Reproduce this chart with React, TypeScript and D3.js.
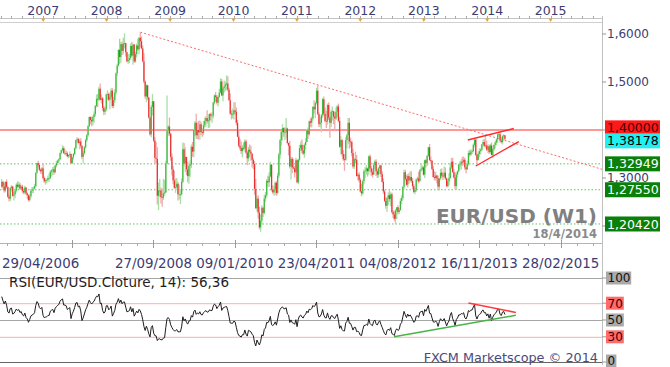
import React, { useEffect, useRef } from 'react';
import * as d3 from 'd3';

// weekly EUR/USD candles, first one opens the week of 7 May 2006
const firstWeek = '2006-05-07';

// closes before the visible range, only used to warm up the RSI
const warmupCloses = [
  1.172, 1.169, 1.179, 1.174, 1.181, 1.200, 1.185, 1.184, 1.208, 1.213, 1.215, 1.225, 1.203,
  1.196, 1.191, 1.192, 1.201, 1.193, 1.215, 1.205, 1.212, 1.216, 1.214, 1.234, 1.262, 1.282,
];

const closes = [
  // 2006
  1.292, 1.282, 1.274, 1.292, 1.281, 1.261, 1.257, 1.279, 1.282, 1.263, 1.266, 1.274, 1.286, 1.282, 1.286, 1.278, 1.282, 1.273,
  1.270, 1.280, 1.268, 1.264, 1.254, 1.262, 1.273, 1.276, 1.278, 1.283, 1.311, 1.331, 1.327, 1.317, 1.314, 1.320, 1.300,
  // 2007
  1.293, 1.295, 1.296, 1.300, 1.300, 1.313, 1.316, 1.318, 1.312, 1.326, 1.331, 1.336, 1.339, 1.352, 1.358, 1.362, 1.352, 1.352,
  1.351, 1.345, 1.348, 1.350, 1.331, 1.343, 1.350, 1.362, 1.379, 1.381, 1.373, 1.376, 1.367, 1.344, 1.352, 1.364, 1.379, 1.389,
  1.408, 1.427, 1.421, 1.418, 1.427, 1.433, 1.450, 1.465, 1.464, 1.486, 1.463, 1.466, 1.446, 1.438, 1.443, 1.474,
  // 2008
  1.475, 1.463, 1.469, 1.482, 1.450, 1.462, 1.478, 1.518, 1.534, 1.567, 1.552, 1.579, 1.565, 1.580, 1.581, 1.562, 1.543, 1.546,
  1.550, 1.575, 1.555, 1.578, 1.543, 1.558, 1.576, 1.568, 1.592, 1.585, 1.570, 1.543, 1.501, 1.470, 1.493, 1.468, 1.426, 1.391,
  1.448, 1.460, 1.378, 1.342, 1.340, 1.263, 1.274, 1.274, 1.260, 1.259, 1.268, 1.270, 1.330, 1.399, 1.407, 1.392,
  // 2009
  1.344, 1.318, 1.295, 1.280, 1.281, 1.288, 1.266, 1.266, 1.266, 1.292, 1.360, 1.330, 1.344, 1.318, 1.304, 1.325, 1.328, 1.365,
  1.355, 1.400, 1.415, 1.389, 1.400, 1.395, 1.412, 1.396, 1.394, 1.410, 1.419, 1.425, 1.418, 1.420, 1.433, 1.430, 1.430, 1.457,
  1.472, 1.469, 1.457, 1.469, 1.478, 1.501, 1.472, 1.487, 1.491, 1.495, 1.497, 1.484, 1.462, 1.434, 1.433, 1.433,
  // 2010
  1.441, 1.438, 1.415, 1.386, 1.367, 1.363, 1.356, 1.363, 1.362, 1.376, 1.353, 1.341, 1.359, 1.355, 1.351, 1.338, 1.329, 1.277,
  1.237, 1.257, 1.228, 1.197, 1.211, 1.238, 1.227, 1.257, 1.264, 1.294, 1.291, 1.303, 1.328, 1.276, 1.270, 1.276, 1.290, 1.269,
  1.305, 1.349, 1.379, 1.396, 1.404, 1.395, 1.395, 1.403, 1.373, 1.367, 1.324, 1.340, 1.322, 1.320, 1.312, 1.337,
  // 2011
  1.291, 1.338, 1.362, 1.369, 1.357, 1.351, 1.369, 1.375, 1.399, 1.391, 1.418, 1.415, 1.424, 1.448, 1.443, 1.456, 1.482, 1.433,
  1.412, 1.415, 1.431, 1.464, 1.434, 1.419, 1.418, 1.452, 1.426, 1.415, 1.438, 1.439, 1.428, 1.424, 1.438, 1.449, 1.419, 1.365,
  1.379, 1.350, 1.339, 1.338, 1.379, 1.389, 1.415, 1.376, 1.375, 1.352, 1.324, 1.339, 1.338, 1.304, 1.307, 1.296,
  // 2012
  1.272, 1.268, 1.293, 1.314, 1.315, 1.320, 1.314, 1.345, 1.320, 1.312, 1.307, 1.327, 1.334, 1.314, 1.307, 1.320, 1.326, 1.308,
  1.292, 1.272, 1.252, 1.242, 1.258, 1.264, 1.256, 1.266, 1.229, 1.224, 1.215, 1.232, 1.239, 1.229, 1.233, 1.252, 1.258, 1.282,
  1.312, 1.298, 1.286, 1.304, 1.295, 1.302, 1.294, 1.283, 1.271, 1.275, 1.297, 1.299, 1.293, 1.316, 1.319, 1.322, 1.307,
  // 2013
  1.337, 1.331, 1.346, 1.364, 1.337, 1.336, 1.319, 1.302, 1.300, 1.305, 1.299, 1.282, 1.299, 1.311, 1.305, 1.303, 1.311, 1.299,
  1.283, 1.293, 1.300, 1.322, 1.334, 1.312, 1.301, 1.283, 1.307, 1.314, 1.328, 1.328, 1.334, 1.333, 1.338, 1.322, 1.318, 1.329,
  1.352, 1.349, 1.355, 1.356, 1.369, 1.380, 1.348, 1.337, 1.350, 1.356, 1.359, 1.370, 1.375, 1.367, 1.368, 1.359,
  // 2014
  1.366, 1.354, 1.368, 1.348, 1.360, 1.369, 1.374, 1.380, 1.391, 1.391, 1.378, 1.375, 1.387, 1.389, 1.38178,
];

const highs = [
  1.298, 1.294, 1.290, 1.293, 1.297, 1.283, 1.266, 1.281, 1.285, 1.284, 1.271, 1.278, 1.289, 1.293, 1.292, 1.290, 1.285, 1.286,
  1.278, 1.284, 1.281, 1.270, 1.266, 1.266, 1.277, 1.281, 1.282, 1.288, 1.312, 1.332, 1.336, 1.330, 1.320, 1.323, 1.330,
  1.303, 1.299, 1.299, 1.305, 1.310, 1.316, 1.318, 1.323, 1.324, 1.328, 1.336, 1.338, 1.341, 1.353, 1.359, 1.368, 1.366, 1.361,
  1.357, 1.355, 1.349, 1.355, 1.351, 1.344, 1.352, 1.364, 1.380, 1.385, 1.384, 1.382, 1.383, 1.369, 1.356, 1.367, 1.382, 1.392,
  1.410, 1.428, 1.428, 1.428, 1.430, 1.439, 1.452, 1.474, 1.475, 1.490, 1.497, 1.474, 1.469, 1.450, 1.448, 1.476,
  1.483, 1.478, 1.477, 1.487, 1.487, 1.469, 1.485, 1.520, 1.538, 1.568, 1.590, 1.584, 1.584, 1.592, 1.601, 1.582, 1.563, 1.559,
  1.558, 1.580, 1.584, 1.580, 1.579, 1.563, 1.580, 1.590, 1.594, 1.604, 1.595, 1.576, 1.560, 1.503, 1.495, 1.494, 1.467, 1.427,
  1.452, 1.475, 1.459, 1.385, 1.375, 1.364, 1.291, 1.298, 1.280, 1.278, 1.298, 1.296, 1.336, 1.472, 1.410, 1.426,
  1.395, 1.351, 1.325, 1.315, 1.299, 1.300, 1.292, 1.286, 1.277, 1.299, 1.374, 1.373, 1.364, 1.343, 1.334, 1.332, 1.337, 1.370,
  1.375, 1.402, 1.419, 1.434, 1.416, 1.419, 1.420, 1.417, 1.403, 1.419, 1.426, 1.429, 1.441, 1.433, 1.435, 1.436, 1.437, 1.459,
  1.474, 1.479, 1.473, 1.472, 1.486, 1.508, 1.506, 1.490, 1.503, 1.501, 1.514, 1.512, 1.488, 1.476, 1.441, 1.445,
  1.458, 1.458, 1.447, 1.421, 1.398, 1.381, 1.376, 1.369, 1.374, 1.380, 1.380, 1.356, 1.365, 1.370, 1.367, 1.351, 1.341, 1.335,
  1.298, 1.263, 1.264, 1.240, 1.224, 1.243, 1.240, 1.265, 1.271, 1.298, 1.305, 1.312, 1.333, 1.328, 1.285, 1.283, 1.292, 1.294,
  1.311, 1.352, 1.381, 1.398, 1.412, 1.405, 1.406, 1.425, 1.405, 1.374, 1.377, 1.343, 1.344, 1.340, 1.325, 1.342,
  1.339, 1.340, 1.369, 1.376, 1.380, 1.369, 1.372, 1.383, 1.402, 1.405, 1.420, 1.425, 1.428, 1.450, 1.462, 1.459, 1.488, 1.494,
  1.437, 1.427, 1.434, 1.467, 1.470, 1.447, 1.440, 1.455, 1.458, 1.428, 1.442, 1.449, 1.440, 1.437, 1.447, 1.452, 1.455, 1.427,
  1.387, 1.381, 1.358, 1.350, 1.385, 1.392, 1.425, 1.425, 1.384, 1.378, 1.361, 1.342, 1.355, 1.348, 1.310, 1.312,
  1.300, 1.288, 1.297, 1.318, 1.323, 1.327, 1.322, 1.347, 1.349, 1.325, 1.320, 1.331, 1.338, 1.339, 1.318, 1.323, 1.327, 1.328,
  1.314, 1.299, 1.276, 1.260, 1.261, 1.270, 1.274, 1.270, 1.270, 1.233, 1.232, 1.235, 1.239, 1.243, 1.238, 1.258, 1.264, 1.283,
  1.317, 1.317, 1.306, 1.309, 1.310, 1.314, 1.314, 1.300, 1.287, 1.279, 1.299, 1.303, 1.313, 1.318, 1.330, 1.326, 1.325,
  1.338, 1.340, 1.348, 1.365, 1.371, 1.345, 1.337, 1.325, 1.314, 1.313, 1.307, 1.305, 1.300, 1.319, 1.320, 1.312, 1.324, 1.322,
  1.301, 1.298, 1.310, 1.331, 1.342, 1.342, 1.318, 1.312, 1.312, 1.316, 1.330, 1.335, 1.339, 1.344, 1.345, 1.342, 1.325, 1.336,
  1.357, 1.359, 1.360, 1.360, 1.372, 1.383, 1.381, 1.352, 1.355, 1.362, 1.362, 1.371, 1.380, 1.381, 1.389, 1.378,
  1.370, 1.370, 1.371, 1.374, 1.363, 1.370, 1.377, 1.383, 1.392, 1.397, 1.396, 1.385, 1.389, 1.391, 1.389,
];

const lows = [
  1.279, 1.276, 1.270, 1.270, 1.278, 1.259, 1.251, 1.252, 1.272, 1.261, 1.253, 1.258, 1.270, 1.279, 1.278, 1.275, 1.276, 1.269,
  1.266, 1.266, 1.265, 1.257, 1.251, 1.251, 1.258, 1.268, 1.268, 1.276, 1.280, 1.309, 1.322, 1.314, 1.309, 1.308, 1.297,
  1.290, 1.286, 1.289, 1.292, 1.292, 1.298, 1.303, 1.306, 1.307, 1.310, 1.322, 1.327, 1.331, 1.338, 1.349, 1.355, 1.350, 1.348,
  1.346, 1.343, 1.341, 1.343, 1.329, 1.329, 1.338, 1.348, 1.360, 1.374, 1.370, 1.360, 1.362, 1.339, 1.330, 1.349, 1.361, 1.375,
  1.386, 1.406, 1.412, 1.408, 1.410, 1.415, 1.428, 1.447, 1.448, 1.460, 1.461, 1.455, 1.440, 1.431, 1.432, 1.439,
  1.462, 1.460, 1.443, 1.464, 1.446, 1.445, 1.457, 1.474, 1.512, 1.532, 1.537, 1.540, 1.556, 1.558, 1.570, 1.553, 1.541, 1.538,
  1.539, 1.546, 1.552, 1.536, 1.540, 1.540, 1.551, 1.565, 1.558, 1.572, 1.568, 1.541, 1.497, 1.465, 1.458, 1.462, 1.424, 1.388,
  1.385, 1.430, 1.375, 1.330, 1.331, 1.245, 1.233, 1.260, 1.247, 1.240, 1.254, 1.263, 1.268, 1.328, 1.388, 1.387,
  1.336, 1.305, 1.287, 1.277, 1.269, 1.278, 1.253, 1.255, 1.246, 1.263, 1.289, 1.325, 1.312, 1.306, 1.291, 1.288, 1.302, 1.321,
  1.344, 1.343, 1.387, 1.381, 1.381, 1.380, 1.380, 1.389, 1.386, 1.389, 1.405, 1.407, 1.413, 1.404, 1.405, 1.420, 1.415, 1.424,
  1.453, 1.459, 1.453, 1.449, 1.467, 1.476, 1.471, 1.460, 1.478, 1.481, 1.483, 1.480, 1.461, 1.432, 1.422, 1.424,
  1.422, 1.432, 1.410, 1.385, 1.364, 1.358, 1.350, 1.343, 1.358, 1.355, 1.350, 1.327, 1.334, 1.343, 1.336, 1.322, 1.318, 1.265,
  1.236, 1.230, 1.215, 1.193, 1.188, 1.203, 1.219, 1.224, 1.250, 1.260, 1.282, 1.281, 1.302, 1.272, 1.267, 1.263, 1.265, 1.263,
  1.266, 1.300, 1.340, 1.367, 1.378, 1.386, 1.379, 1.384, 1.370, 1.347, 1.320, 1.297, 1.310, 1.318, 1.301, 1.310,
  1.289, 1.287, 1.334, 1.356, 1.351, 1.348, 1.342, 1.359, 1.375, 1.382, 1.388, 1.406, 1.405, 1.420, 1.434, 1.425, 1.453, 1.431,
  1.406, 1.405, 1.395, 1.425, 1.429, 1.416, 1.404, 1.411, 1.421, 1.384, 1.406, 1.420, 1.412, 1.399, 1.421, 1.427, 1.416, 1.363,
  1.349, 1.345, 1.336, 1.315, 1.336, 1.362, 1.371, 1.361, 1.364, 1.345, 1.320, 1.319, 1.330, 1.303, 1.295, 1.291,
  1.270, 1.262, 1.265, 1.287, 1.300, 1.307, 1.303, 1.307, 1.318, 1.304, 1.301, 1.306, 1.318, 1.304, 1.300, 1.301, 1.309, 1.302,
  1.290, 1.267, 1.250, 1.236, 1.229, 1.244, 1.250, 1.241, 1.226, 1.216, 1.210, 1.204, 1.214, 1.224, 1.225, 1.232, 1.245, 1.254,
  1.276, 1.295, 1.283, 1.280, 1.288, 1.292, 1.290, 1.276, 1.268, 1.266, 1.271, 1.292, 1.289, 1.293, 1.313, 1.315, 1.305,
  1.300, 1.322, 1.325, 1.344, 1.336, 1.332, 1.316, 1.301, 1.295, 1.295, 1.289, 1.275, 1.274, 1.295, 1.300, 1.296, 1.300, 1.296,
  1.281, 1.280, 1.285, 1.298, 1.318, 1.311, 1.299, 1.276, 1.275, 1.301, 1.312, 1.318, 1.317, 1.325, 1.328, 1.317, 1.310, 1.317,
  1.325, 1.345, 1.346, 1.350, 1.353, 1.364, 1.346, 1.329, 1.339, 1.344, 1.349, 1.355, 1.366, 1.364, 1.362, 1.356,
  1.352, 1.350, 1.351, 1.347, 1.342, 1.357, 1.362, 1.368, 1.373, 1.385, 1.374, 1.372, 1.370, 1.378, 1.379,
];

const years = [2007, 2008, 2009, 2010, 2011, 2012, 2013, 2014, 2015];
const axisDates = ['2007-06-16', '2008-09-27', '2010-01-09', '2011-04-23', '2012-08-04', '2013-11-16', '2015-02-28'];
const axisLabels = ['', '27/09/2008', '09/01/2010', '23/04/2011', '04/08/2012', '16/11/2013', '28/02/2015'];
const firstDateLabel = '29/04/2006';

const priceTicks = [1.2, 1.3, 1.4, 1.5, 1.6];
const resistanceLevel = 1.4;
const supportLevels = [1.32949, 1.2755, 1.2042];

// trendlines [date, value]
const longTrend: [string, number][] = [['2008-07-13', 1.6038], ['2011-05-01', 1.494]];
const wedgeTop: [string, number][] = [['2013-09-11', 1.3792], ['2014-06-03', 1.4031]];
const wedgeBottom: [string, number][] = [['2013-10-27', 1.325], ['2014-07-02', 1.376]];
const rsiResistance: [string, number][] = [['2013-09-15', 70.2], ['2014-06-15', 59.0]];
const rsiSupport: [string, number][] = [['2012-07-13', 30.1], ['2014-06-15', 55.6]];

const rsiPeriod = 14;
const rsiLevels = [100, 70, 50, 30, 0];
const rsiTitle = 'RSI(EUR/USD.Cloture, 14): 56,36';

const font = "'DejaVu Sans', Verdana, sans-serif";
const ink = '#3c3c72';

const parse = (s: string) => new Date(s + 'T00:00:00Z');

const App = () => {
  const svgRef = useRef<SVGSVGElement>(null);

  useEffect(() => {
    document.body.style.margin = '0';

    const width = 670;
    const height = 367;
    const plotLeft = 0;
    const plotRight = 602;
    const mainTop = 22;
    const mainBottom = 243;
    const rsiTop = 278;
    const rsiBottom = 362;

    const fr = d3.formatLocale({ decimal: ',', thousands: '\u00a0', grouping: [3], currency: ['', ''] });
    const f4 = fr.format('.4f');
    const f5 = fr.format('.5f');

    const t0 = parse(firstWeek);
    const weeks = closes.map((c, i) => ({
      date: d3.utcDay.offset(t0, i * 7),
      open: i === 0 ? warmupCloses[warmupCloses.length - 1] : closes[i - 1],
      close: c,
      high: highs[i],
      low: lows[i],
    }));

    // Wilder RSI over warmup + visible closes
    const all = warmupCloses.concat(closes);
    let gain = 0;
    let loss = 0;
    for (let i = 1; i <= rsiPeriod; i++) {
      const d = all[i] - all[i - 1];
      if (d > 0) gain += d; else loss -= d;
    }
    gain /= rsiPeriod;
    loss /= rsiPeriod;
    const rsiAll: number[] = [];
    for (let i = rsiPeriod + 1; i < all.length; i++) {
      const d = all[i] - all[i - 1];
      gain = (gain * (rsiPeriod - 1) + Math.max(d, 0)) / rsiPeriod;
      loss = (loss * (rsiPeriod - 1) + Math.max(-d, 0)) / rsiPeriod;
      rsiAll[i] = loss === 0 ? 100 : 100 - 100 / (1 + gain / loss);
    }
    const rsi = weeks.map((w, i) => ({ date: w.date, value: rsiAll[i + warmupCloses.length] }));

    const x = d3.scaleUtc()
      .domain([parse('2006-04-27'), parse('2015-10-24')])
      .range([plotLeft, plotRight]);

    const y = d3.scaleLinear()
      .domain([1.16458, 1.625])
      .range([mainBottom, mainTop]);

    const ry = d3.scaleLinear()
      .domain([0, 100])
      .range([rsiBottom, rsiTop]);

    const svg = d3.select(svgRef.current)
      .attr('width', width)
      .attr('height', height)
      .attr('viewBox', [0, 0, width, height].join(' '))
      .style('display', 'block')
      .style('font-family', font);
    svg.selectAll('*').remove();

    svg.append('rect').attr('width', width).attr('height', height).attr('fill', '#fff');

    // top time axis
    const top = svg.append('g');
    top.append('line')
      .attr('x1', plotLeft).attr('x2', plotRight).attr('y1', 18.5).attr('y2', 18.5)
      .attr('stroke', '#c4c4c4');
    top.selectAll('line.minor')
      .data(d3.utcMonth.every(2)!.range(x.domain()[0], x.domain()[1]))
      .join('line')
      .attr('class', 'minor')
      .attr('x1', d => Math.round(x(d)) + 0.5).attr('x2', d => Math.round(x(d)) + 0.5)
      .attr('y1', 16).attr('y2', 18.5)
      .attr('stroke', '#a8a8a8');
    top.selectAll('path.year')
      .data(years)
      .join('path')
      .attr('class', 'year')
      .attr('d', d => {
        const px = x(Date.UTC(d, 0, 1));
        return `M${px - 2},18.5L${px + 2},18.5L${px},22Z`;
      })
      .attr('fill', '#f0a030');
    top.selectAll('text')
      .data(years)
      .join('text')
      .attr('x', d => x(Date.UTC(d, 0, 1)))
      .attr('y', 15)
      .attr('text-anchor', 'middle')
      .attr('font-size', 12.5)
      .attr('fill', ink)
      .text(d => d);

    // main frame
    svg.append('line')
      .attr('x1', plotLeft).attr('x2', plotRight).attr('y1', mainTop + 0.5).attr('y2', mainTop + 0.5)
      .attr('stroke', '#d0d0d0');
    svg.append('line')
      .attr('x1', plotRight + 0.5).attr('x2', plotRight + 0.5).attr('y1', 16).attr('y2', rsiBottom + 3)
      .attr('stroke', '#c0c0c0');

    // watermark
    svg.append('text')
      .attr('x', 597).attr('y', 223)
      .attr('text-anchor', 'end')
      .attr('font-size', 20).attr('font-weight', 'bold')
      .attr('fill', '#808080')
      .text('EUR/USD (W1)');
    svg.append('text')
      .attr('x', 597).attr('y', 238)
      .attr('text-anchor', 'end')
      .attr('font-size', 11.5).attr('font-weight', 'bold')
      .attr('fill', '#8a8a8a')
      .text('18/4/2014');

    // horizontal levels
    svg.selectAll('line.support')
      .data(supportLevels)
      .join('line')
      .attr('class', 'support')
      .attr('x1', plotLeft).attr('x2', plotRight)
      .attr('y1', d => y(d)).attr('y2', d => y(d))
      .attr('stroke', '#63c063').attr('stroke-dasharray', '1.5,2');
    svg.append('line')
      .attr('x1', plotLeft).attr('x2', plotRight)
      .attr('y1', y(resistanceLevel)).attr('y2', y(resistanceLevel))
      .attr('stroke', '#ff3030').attr('stroke-width', 1.2);

    // long dotted trendline from the 2008 top, extended to the edge
    const [a, b] = longTrend.map(([d, v]) => [x(parse(d)), y(v)]);
    const slope = (b[1] - a[1]) / (b[0] - a[0]);
    svg.append('line')
      .attr('x1', a[0]).attr('y1', a[1])
      .attr('x2', plotRight).attr('y2', a[1] + slope * (plotRight - a[0]))
      .attr('stroke', '#ff6a6a').attr('stroke-dasharray', '2,2');

    // candles
    const up = (d: { open: number; close: number }) => d.close >= d.open;
    svg.append('g')
      .selectAll('line')
      .data(weeks)
      .join('line')
      .attr('x1', d => x(d.date)).attr('x2', d => x(d.date))
      .attr('y1', d => y(d.high)).attr('y2', d => y(d.low))
      .attr('stroke', d => (up(d) ? '#a9dea4' : '#f3a9a9'))
      .attr('stroke-width', 1.3);
    svg.append('g')
      .selectAll('rect')
      .data(weeks)
      .join('rect')
      .attr('x', d => x(d.date) - 0.6)
      .attr('width', 1.2)
      .attr('y', d => y(Math.max(d.open, d.close)))
      .attr('height', d => Math.max(0.8, Math.abs(y(d.open) - y(d.close))))
      .attr('fill', d => (up(d) ? '#3cb83c' : '#e8302e'));

    // wedge
    [wedgeTop, wedgeBottom].forEach(seg => {
      svg.append('line')
        .attr('x1', x(parse(seg[0][0]))).attr('y1', y(seg[0][1]))
        .attr('x2', x(parse(seg[1][0]))).attr('y2', y(seg[1][1]))
        .attr('stroke', '#ff2a2a').attr('stroke-width', 1.4);
    });

    // value boxes, pushed apart when they collide
    const last = closes[closes.length - 1];
    const boxes = [
      { value: resistanceLevel, fill: '#ff1a1a', color: '#3a0000' },
      { value: last, fill: '#22f0f0', color: '#000' },
      ...supportLevels.map(v => ({ value: v, fill: '#0a800a', color: '#fff' })),
    ].map(d => ({ ...d, cy: y(d.value) })).sort((p, q) => p.cy - q.cy);
    for (let i = 1; i < boxes.length; i++) {
      const gap = boxes[i].cy - boxes[i - 1].cy;
      if (gap < 13) {
        const push = (13 - gap) / 2;
        boxes[i - 1].cy -= push;
        boxes[i].cy += push;
      }
    }

    // right price scale; labels hidden behind a value box are left out
    svg.selectAll('line.ptick')
      .data(priceTicks)
      .join('line')
      .attr('class', 'ptick')
      .attr('x1', plotRight).attr('x2', plotRight + 4)
      .attr('y1', d => y(d)).attr('y2', d => y(d))
      .attr('stroke', '#999');
    svg.selectAll('text.ptick')
      .data(priceTicks.filter(v => boxes.every(bx => Math.abs(bx.cy - y(v)) > 9)))
      .join('text')
      .attr('class', 'ptick')
      .attr('x', 607).attr('y', d => y(d))
      .attr('dy', '0.36em')
      .attr('font-size', 12)
      .attr('fill', ink)
      .text(d => f4(d));

    const boxG = svg.append('g');
    boxes.forEach(d => {
      boxG.append('rect')
        .attr('x', 605).attr('y', d.cy - 7.5)
        .attr('width', 55).attr('height', 15)
        .attr('fill', d.fill);
      boxG.append('text')
        .attr('x', 607).attr('y', d.cy)
        .attr('dy', '0.37em')
        .attr('font-size', 12.5)
        .attr('fill', d.color)
        .text(f5(d.value));
    });

    // bottom date axis
    svg.append('line')
      .attr('x1', plotLeft).attr('x2', plotRight).attr('y1', mainBottom + 0.5).attr('y2', mainBottom + 0.5)
      .attr('stroke', '#b4b4b4');
    const majors = axisDates.map(d => x(parse(d)));
    const step = (majors[1] - majors[0]) / 5;
    const minors = d3.range(-10, 40).map(k => majors[0] + k * step).filter(px => px > plotLeft && px < plotRight);
    svg.selectAll('line.dminor')
      .data(minors)
      .join('line')
      .attr('class', 'dminor')
      .attr('x1', d => Math.round(d) + 0.5).attr('x2', d => Math.round(d) + 0.5)
      .attr('y1', mainBottom).attr('y2', mainBottom + 3)
      .attr('stroke', '#aaa');
    svg.selectAll('line.dmajor')
      .data(majors)
      .join('line')
      .attr('class', 'dmajor')
      .attr('x1', d => Math.round(d) + 0.5).attr('x2', d => Math.round(d) + 0.5)
      .attr('y1', mainBottom - 3).attr('y2', mainBottom + 5)
      .attr('stroke', '#999');
    svg.append('text')
      .attr('x', 2).attr('y', 268)
      .attr('font-size', 13.4).attr('fill', ink)
      .text(firstDateLabel);
    svg.selectAll('text.dlabel')
      .data(axisDates.map((d, i) => ({ px: x(parse(d)), label: axisLabels[i] })).filter(d => d.label))
      .join('text')
      .attr('class', 'dlabel')
      .attr('x', d => d.px).attr('y', 268)
      .attr('text-anchor', 'middle')
      .attr('font-size', 13.4).attr('fill', ink)
      .text(d => d.label);

    // RSI panel
    const levelStroke = (v: number) => (v === 70 || v === 30 ? '#f6b0b0' : v === 0 ? '#666' : '#a6a6a6');
    svg.selectAll('line.rlevel')
      .data(rsiLevels)
      .join('line')
      .attr('class', 'rlevel')
      .attr('x1', plotLeft).attr('x2', plotRight)
      .attr('y1', d => ry(d) + 0.5).attr('y2', d => ry(d) + 0.5)
      .attr('stroke', d => levelStroke(d))
      .attr('stroke-width', 1);

    svg.append('path')
      .datum(rsi.filter(d => d.value !== undefined))
      .attr('fill', 'none')
      .attr('stroke', '#1e1e1e')
      .attr('stroke-width', 1)
      .attr('d', d3.line<{ date: Date; value: number }>()
        .x(d => x(d.date))
        .y(d => ry(d.value)));

    [
      { seg: rsiResistance, color: '#ff3a3a' },
      { seg: rsiSupport, color: '#46b446' },
    ].forEach(({ seg, color }) => {
      svg.append('line')
        .attr('x1', x(parse(seg[0][0]))).attr('y1', ry(seg[0][1]))
        .attr('x2', x(parse(seg[1][0]))).attr('y2', ry(seg[1][1]))
        .attr('stroke', color).attr('stroke-width', 1.5);
    });

    svg.append('text')
      .attr('x', 9).attr('y', 287)
      .attr('font-size', 13.5).attr('fill', '#1e1e1e')
      .text(rsiTitle);

    svg.selectAll('line.rtick')
      .data(rsiLevels)
      .join('line')
      .attr('class', 'rtick')
      .attr('x1', plotRight).attr('x2', plotRight + 4)
      .attr('y1', d => ry(d)).attr('y2', d => ry(d))
      .attr('stroke', '#999');
    const rBoxes = svg.append('g');
    rsiLevels.forEach(v => {
      const label = String(v);
      const w = label.length * 7.4 + 3;
      const band = v === 70 || v === 30;
      // the 0 label sits at the very bottom, keep it inside the picture
      const cy = Math.min(ry(v), height - 6);
      rBoxes.append('rect')
        .attr('x', 606).attr('y', cy - 6.5)
        .attr('width', w).attr('height', 13)
        .attr('fill', band ? '#ff6a6a' : '#a9a9a9');
      rBoxes.append('text')
        .attr('x', 607.5).attr('y', cy)
        .attr('dy', '0.37em')
        .attr('font-size', 12)
        .attr('fill', band ? '#3a0000' : '#111')
        .text(label);
    });

    svg.append('text')
      .attr('x', 598).attr('y', 362)
      .attr('text-anchor', 'end')
      .attr('font-size', 12.8)
      .attr('fill', '#4a4a7c')
      .text('FXCM Marketscope \u00a9 2014');
  }, []);

  return (
    <div>
      <svg ref={svgRef}></svg>
    </div>
  );
};

export default App;
